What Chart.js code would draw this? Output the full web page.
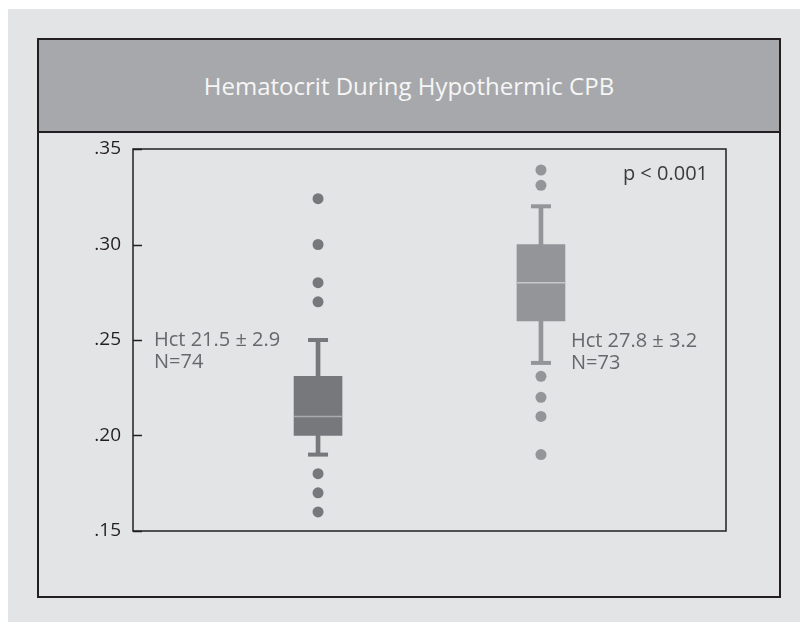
<!DOCTYPE html>
<html><head><meta charset="utf-8">
<script src="https://cdn.jsdelivr.net/npm/chart.js@4/dist/chart.umd.min.js"></script>
<style>
html,body{margin:0;padding:0;background:#fff;width:800px;height:622px;overflow:hidden;font-family:'Open Sans',sans-serif}
#bg{position:absolute;left:8px;top:9px;width:792px;height:613px;background:#e3e4e6}
#frame{position:absolute;left:37px;top:38px;width:740px;height:556px;border:2px solid #231f20}
#band{position:absolute;left:0;top:0;width:740px;height:91px;background:#a7a8ab;border-bottom:2px solid #231f20;color:#f6f6f6;font-size:24px;display:flex;align-items:center;justify-content:center}
#c{position:absolute;left:0;top:0}
</style></head>
<body>
<div id="bg"></div>
<div id="frame"><div id="band">Hematocrit During Hypothermic CPB</div></div>
<canvas id="c" width="800" height="622"></canvas>
<script>
// ---- data ----
const groupPos = [1, 2];
const q1 = [0.200, 0.260];
const q3 = [0.231, 0.300];
const median = [0.210, 0.280];
const whiskerLow = [0.190, 0.238];
const whiskerHigh = [0.250, 0.320];
const outliers1 = [0.324, 0.300, 0.280, 0.270, 0.180, 0.170, 0.160];
const outliers2 = [0.339, 0.331, 0.231, 0.220, 0.210, 0.190];
const yTicks = [0.15, 0.20, 0.25, 0.30, 0.35];
const annotations = [['Hct 21.5 \u00B1 2.9', 'N=74'], ['Hct 27.8 \u00B1 3.2', 'N=73']];
const pText = 'p < 0.001';

// ---- styles ----
const boxColors = ['#77787b', '#949598'];
const medianColors = ['#a9aaad', '#c6c7c9'];

const overlay = {
  id: 'overlay',
  afterDraw(chart) {
    const { ctx, chartArea: a, scales: { x, y } } = chart;
    ctx.save();
    ctx.strokeStyle = '#231f20';
    ctx.lineWidth = 1.5;
    ctx.strokeRect(a.left, a.top, a.right - a.left, a.bottom - a.top);
    y.ticks.forEach(t => {
      const py = Math.round(y.getPixelForValue(t.value)) + 0.5;
      ctx.beginPath(); ctx.moveTo(a.left, py); ctx.lineTo(a.left + 9, py); ctx.stroke();
    });
    ctx.font = '20px "Open Sans"';
    ctx.textBaseline = 'middle';
    ctx.fillStyle = '#67686b';
    ctx.textAlign = 'left';
    const yA = y.getPixelForValue(0.25);
    // left annotation
    ctx.fillText(annotations[0][0], a.left + 21, yA);
    ctx.fillText(annotations[0][1], a.left + 21, yA + 22);
    // right annotation
    const x2 = x.getPixelForValue(groupPos[1]) + 30;
    ctx.fillText(annotations[1][0], x2, yA + 1);
    ctx.fillText(annotations[1][1], x2, yA + 23);
    ctx.fillStyle = '#3b3b3d';
    ctx.textAlign = 'right';
    ctx.fillText(pText, a.right - 18, a.top + 25);
    ctx.restore();
  }
};

const pts = arr => groupPos.map((g, i) => ({ x: g, y: arr[i] }));

new Chart(document.getElementById('c'), {
  type: 'bar',
  data: {
    datasets: [
      { type: 'bar', order: 5, grouped: false, barThickness: 4,
        data: groupPos.map((g, i) => ({ x: g, y: [whiskerLow[i], whiskerHigh[i]] })),
        backgroundColor: boxColors },
      { type: 'bar', order: 4, grouped: false, barThickness: 48,
        data: groupPos.map((g, i) => ({ x: g, y: [q1[i], q3[i]] })),
        backgroundColor: boxColors },
      { type: 'scatter', order: 3, data: pts(median), pointStyle: 'line', radius: 24,
        borderWidth: 1.5, borderColor: medianColors },
      { type: 'scatter', order: 2, data: pts(whiskerHigh).concat(pts(whiskerLow)), pointStyle: 'line', radius: 10,
        borderWidth: 4, borderColor: boxColors.concat(boxColors) },
      { type: 'scatter', order: 1, data: outliers1.map(v => ({ x: groupPos[0], y: v })),
        radius: 5.5, backgroundColor: boxColors[0], borderWidth: 0 },
      { type: 'scatter', order: 1, data: outliers2.map(v => ({ x: groupPos[1], y: v })),
        radius: 5.5, backgroundColor: boxColors[1], borderWidth: 0 }
    ]
  },
  options: {
    responsive: false,
    animation: false,
    layout: { padding: { left: 73, top: 149, right: 74, bottom: 91 } },
    plugins: { legend: { display: false }, tooltip: { enabled: false } },
    scales: {
      x: { type: 'linear', min: 0.17, max: 2.83, offset: false, display: false },
      y: {
        type: 'linear', min: 0.15, max: 0.35,
        afterFit(scale) { scale.width = 60; },
        afterBuildTicks(scale) { scale.ticks = yTicks.map(v => ({ value: v })); },
        grid: { display: false, drawTicks: false },
        border: { display: false },
        ticks: {
          padding: 12, color: '#231f20',
          font: { family: 'Open Sans', size: 19 },
          callback: v => '.' + Math.round(v * 100)
        }
      }
    }
  },
  plugins: [overlay]
});
</script>
</body></html>
